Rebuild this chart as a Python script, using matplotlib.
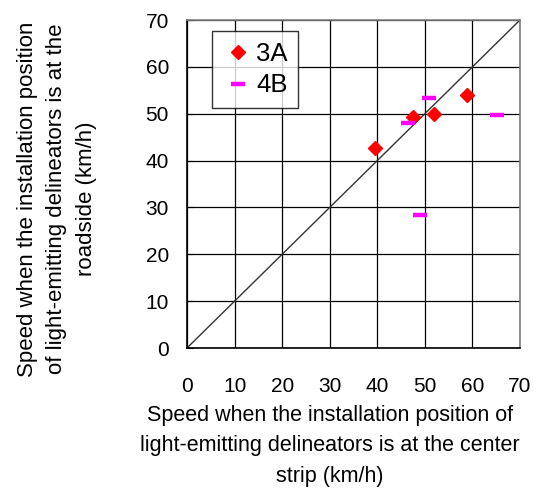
import matplotlib
matplotlib.use('Agg')
import matplotlib.pyplot as plt
import numpy as np

plt.rcParams['font.family'] = ['Liberation Sans', 'DejaVu Sans']

# speed at center strip (x) vs roadside (y), km/h
a3_x = [39.5, 47.6, 51.9, 58.9]
a3_y = [42.6, 49.2, 49.9, 54.0]
b4_x = [46.4, 50.9, 49.0, 65.1]
b4_y = [48.1, 53.3, 28.4, 49.7]
ticks = [0, 10, 20, 30, 40, 50, 60, 70]

fig = plt.figure(figsize=(5.4, 5.01), dpi=100)
ax = fig.add_axes([187/540, 1 - 348/501, 333/540, 328/501])

ax.plot([0, 70], [0, 70], color='#333333', lw=1, zorder=2)
ax.plot(a3_x, a3_y, linestyle='none', marker='D', ms=7.5, color='#FF0000',
        mec='#FF0000', label='3A', zorder=3)
ax.plot(b4_x, b4_y, linestyle='none', marker='_', ms=10, mew=3.2,
        color='#FF00FF', label='4B', zorder=3)

ax.set_xlim(0, 70)
ax.set_ylim(0, 70)
ax.set_xticks(ticks)
ax.set_yticks(ticks)
ax.grid(True, color='black', lw=0.9)
ax.set_axisbelow(True)
ax.tick_params(axis='x', length=0, pad=21, labelsize=15)
ax.tick_params(axis='y', direction='in', length=4, pad=13, labelsize=15)
for s in ('top', 'right'):
    ax.spines[s].set_color('#808080')
    ax.spines[s].set_linewidth(1.2)
for s in ('left', 'bottom'):
    ax.spines[s].set_color('black')
    ax.spines[s].set_linewidth(1.2)

leg = ax.legend(loc='upper left', bbox_to_anchor=(25/333, 1 - 11/328),
                fontsize=18.5, frameon=True, fancybox=False, borderpad=0.42,
                handlelength=1.2, handletextpad=0.1, labelspacing=0.3,
                borderaxespad=0)
leg.get_frame().set_edgecolor('black')
leg.get_frame().set_linewidth(1.0)

fig.text(57/540, 1 - 199/501,
         'Speed when the installation position\n'
         'of light-emitting delineators is at the\n'
         'roadside (km/h)',
         rotation=90, ha='center', va='center', fontsize=16, linespacing=1.55)
fig.text(330/540, 1 - 446/501,
         'Speed when the installation position of\n'
         'light-emitting delineators is at the center\n'
         'strip (km/h)',
         ha='center', va='center', fontsize=15.5, linespacing=1.6)

fig.savefig('out.png', dpi=100)
